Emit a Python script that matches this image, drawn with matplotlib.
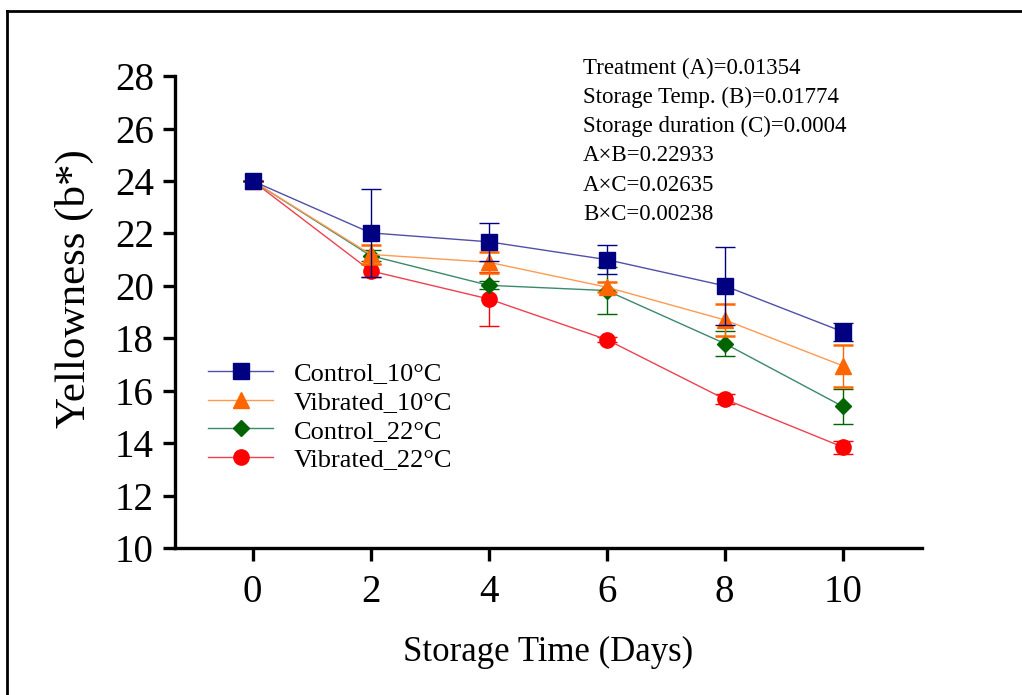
import numpy as np
import matplotlib
matplotlib.use("Agg")
import matplotlib.pyplot as plt
from matplotlib.lines import Line2D

plt.rcParams['font.family'] = ['Liberation Serif', 'DejaVu Serif']

days = [0, 2, 4, 6, 8, 10]

control_10 = [24.0, 22.02, 21.68, 21.0, 20.0, 18.25]
control_10_err = [0.0, 1.68, 0.72, 0.54, 1.48, 0.35]
vibrated_10 = [24.0, 21.2, 20.9, 19.95, 18.7, 16.95]
vibrated_10_err = [0.0, 0.35, 0.4, 0.2, 0.6, 0.8]
control_22 = [24.0, 21.15, 20.02, 19.82, 17.8, 15.4]
control_22_err = [0.0, 0.2, 0.15, 0.89, 0.46, 0.66]
vibrated_22 = [24.0, 20.57, 19.5, 17.95, 15.68, 13.85]
vibrated_22_err = [0.0, 0.25, 1.02, 0.1, 0.2, 0.25]

stats_text = ["Treatment (A)=0.01354",
              "Storage Temp. (B)=0.01774",
              "Storage duration (C)=0.0004",
              "A\u00d7B=0.22933",
              "A\u00d7C=0.02635",
              "B\u00d7C=0.00238"]

fig = plt.figure(figsize=(10.22, 6.95), dpi=100)
ax = fig.add_axes([0.171, 0.2115, 0.731, 0.679])

series = [
    (control_10, control_10_err, "Control_10\u00b0C", 's', '#000080', '#5050a8', 12),
    (vibrated_10, vibrated_10_err, "Vibrated_10\u00b0C", '^', '#ff6600', '#ff9a50', 12),
    (control_22, control_22_err, "Control_22\u00b0C", 'D', '#006400', '#3a8a6a', 8),
    (vibrated_22, vibrated_22_err, "Vibrated_22\u00b0C", 'o', '#ff0000', '#f04050', 11),
]

handles = []
for k, (vals, errs, name, mk, mc, lc, ms) in enumerate(series):
    z = 10 - 2 * k
    ax.errorbar(days, vals, yerr=errs, fmt='none', ecolor=mc, elinewidth=1.0,
                capsize=7, capthick=1.8 if mk == '^' else 1.0, zorder=z)
    h, = ax.plot(days, vals, color=lc, lw=1.0, marker=mk, markersize=ms,
                 markerfacecolor=mc, markeredgecolor=mc, label=name, zorder=z + 1)
    handles.append(h)

ax.set_xlim(-1.32, 11.34)
ax.set_ylim(10, 28)
ax.set_xticks(days)
ax.set_yticks(np.arange(10, 29, 2))
ax.spines['top'].set_visible(False)
ax.spines['right'].set_visible(False)
ax.spines['left'].set_linewidth(2.4)
ax.spines['bottom'].set_linewidth(2.4)
ax.tick_params(axis='both', direction='out', length=9, width=2.4, labelsize=28, pad=6)
ax.tick_params(axis='x', pad=10)
ax.set_ylabel("Yellowness (b*)", fontsize=31)
ax.yaxis.set_label_coords(-0.108, 0.55)
ax.set_xlabel("Storage Time (Days)", fontsize=25, labelpad=18)

ax.legend(handles=handles, loc='upper left', bbox_to_anchor=(0.013, 0.445),
          frameon=False, fontsize=19, handlelength=2.45, handletextpad=0.8,
          labelspacing=0.2)

for i, line in enumerate(stats_text):
    fig.text(583 / 1022, 1 - (68 + i * 29.3) / 695, line, fontsize=16.5,
             va='center', ha='left')

# border of the original image
fig.add_artist(Line2D([7 / 1022, 7 / 1022], [0, 1 - 11 / 695], transform=fig.transFigure,
                      color='black', lw=2))
fig.add_artist(Line2D([7 / 1022, 1], [1 - 11 / 695, 1 - 11 / 695], transform=fig.transFigure,
                      color='black', lw=2))

fig.savefig("out.png", dpi=100)
